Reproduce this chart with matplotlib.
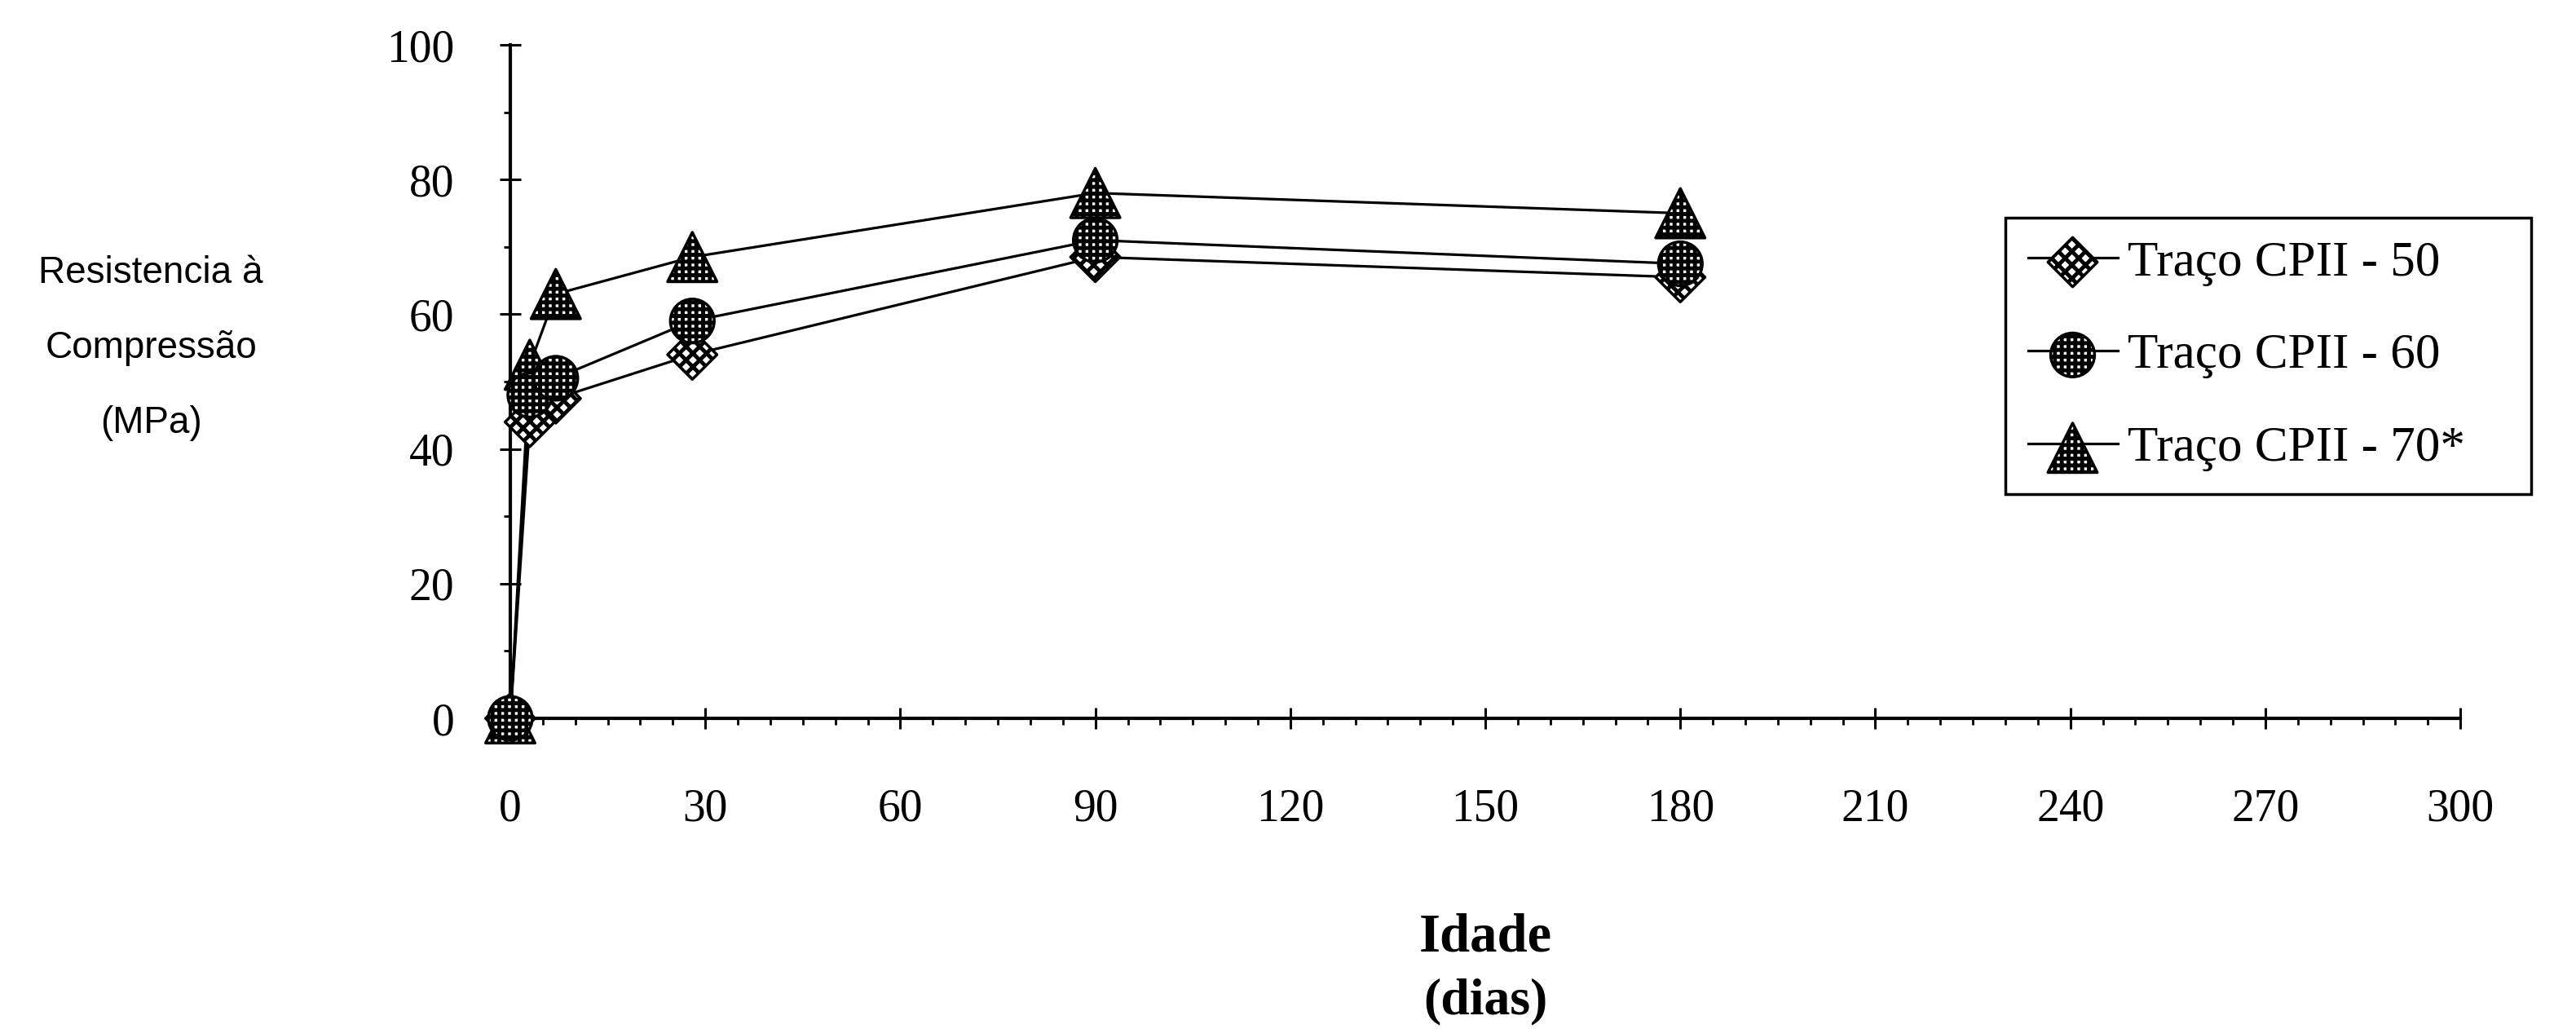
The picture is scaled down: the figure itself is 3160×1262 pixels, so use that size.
import matplotlib
matplotlib.use("Agg")
import matplotlib.pyplot as plt
from matplotlib.ticker import MultipleLocator

plt.rcParams['font.family'] = ['Liberation Serif', 'DejaVu Serif']
plt.rcParams['hatch.color'] = 'black'
plt.rcParams['hatch.linewidth'] = 3.5

# Compressive strength (MPa) against age (days)
dias = [0, 3, 7, 28, 90, 180]
cpii_50 = [0, 44, 47.5, 54, 68.5, 65.5]
cpii_60 = [0, 48, 50.5, 59, 71, 67.5]
cpii_70 = [0, 52.5, 63, 68.5, 78, 75]

labels = ["Traço CPII - 50", "Traço CPII - 60", "Traço CPII - 70*"]
x_ticks = [0, 30, 60, 90, 120, 150, 180, 210, 240, 270, 300]
y_ticks = [0, 20, 40, 60, 80, 100]

fig = plt.figure(figsize=(31.6, 12.62), dpi=100)
ax = fig.add_axes([0.1981, 0.3019, 0.757, 0.6545])

series = [
    (cpii_50, 'D', 950, 'xx'),
    (cpii_70, '^', 1900, '++'),
    (cpii_60, 'o', 1500, '++'),
]
handles = {}
for vals, mk, size, hatch in series:
    line, = ax.plot(dias, vals, color='black', lw=2.3, zorder=2)
    sc = ax.scatter(dias, vals, s=size, marker=mk, facecolor='white',
                    edgecolor='black', linewidths=2.5, hatch=hatch,
                    zorder=3, clip_on=False)
    handles[mk] = (line, sc)

ax.set_xlim(0, 300)
ax.set_ylim(0, 100)
ax.set_xticks(x_ticks)
ax.set_yticks(y_ticks)
ax.xaxis.set_minor_locator(MultipleLocator(5))
ax.yaxis.set_minor_locator(MultipleLocator(10))

for side in ['top', 'right']:
    ax.spines[side].set_visible(False)
for side in ['left', 'bottom']:
    ax.spines[side].set_linewidth(3)

ax.tick_params(which='major', direction='inout', length=19, width=2.2,
               labelsize=40)
ax.tick_params(which='minor', direction='out', length=6, width=2)
ax.tick_params(axis='y', which='major', pad=40)
ax.tick_params(axis='x', which='major', pad=52)

for txt, ypx in [("Resistencia à", 335), ("Compressão", 427), ("(MPa)", 519)]:
    fig.text(185 / 3160, 1 - ypx / 1262, txt, family='Liberation Sans',
             fontsize=33, ha='center', va='center')

fig.text(1822 / 3160, 1 - 1150 / 1262, "Idade", fontsize=48,
         fontweight='bold', ha='center', va='center')
fig.text(1822 / 3160, 1 - 1228 / 1262, "(dias)", fontsize=46,
         fontweight='bold', ha='center', va='center')

leg = fig.legend([handles['D'], handles['o'], handles['^']], labels,
                 loc='center left',
                 bbox_to_anchor=(2460 / 3160, 1 - 603 / 1262, 645 / 3160, 333 / 1262),
                 mode='expand', borderaxespad=0, fontsize=44,
                 fancybox=False, framealpha=1, edgecolor='black',
                 handlelength=1.8, handletextpad=0.2, labelspacing=0.95,
                 borderpad=0.45)
leg.get_frame().set_linewidth(2.5)

fig.savefig("out.png", dpi=100, facecolor='white')
